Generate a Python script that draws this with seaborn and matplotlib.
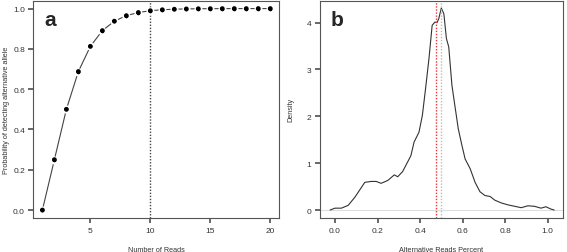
import numpy as np
import pandas as pd
import seaborn as sns
from matplotlib import pyplot as plt

# panel a: probability of detecting the alternative allele by read depth
reads = list(range(1, 21))
prob_detect = [0.0, 0.25, 0.5, 0.6875, 0.8125, 0.8906, 0.9375, 0.9648, 0.9805, 0.9893,
               0.9941, 0.9968, 0.9983, 0.9991, 0.9995, 0.9997, 0.9999, 0.9999, 1.0, 1.0]
read_cutoff = 10

# panel b: density of alternative read fraction
alt_pct = [-0.023, 0.0, 0.03, 0.062, 0.093, 0.124, 0.14, 0.17, 0.194, 0.217, 0.248,
           0.279, 0.295, 0.318, 0.341, 0.357, 0.372, 0.395, 0.411, 0.426, 0.442,
           0.457, 0.47, 0.48, 0.488, 0.50, 0.512, 0.524, 0.535, 0.55, 0.566, 0.58,
           0.597, 0.612, 0.636, 0.659, 0.682, 0.705, 0.729, 0.752, 0.783, 0.814,
           0.845, 0.876, 0.907, 0.938, 0.969, 0.992, 1.016, 1.031]
density = [0.0, 0.04, 0.04, 0.10, 0.27, 0.48, 0.59, 0.61, 0.61, 0.57, 0.63,
           0.75, 0.71, 0.82, 1.02, 1.16, 1.45, 1.66, 2.02, 2.59, 3.23,
           3.94, 4.01, 4.0, 4.08, 4.31, 4.19, 3.66, 3.48, 2.66, 2.16, 1.73,
           1.38, 1.09, 0.88, 0.59, 0.39, 0.31, 0.29, 0.21, 0.15, 0.11,
           0.08, 0.05, 0.09, 0.08, 0.04, 0.07, 0.02, 0.0]
mean_line = 0.475
half_line = 0.5

sns.set_theme(style="ticks")
plt.rcParams['font.family'] = ['Liberation Sans', 'DejaVu Sans']
grey = '#555555'
plt.rcParams.update({
    'axes.edgecolor': grey, 'axes.linewidth': 0.8,
    'xtick.color': grey, 'ytick.color': grey,
    'xtick.labelcolor': '#333333', 'ytick.labelcolor': '#333333',
    'xtick.labelsize': 6, 'ytick.labelsize': 6,
    'xtick.major.size': 3.5, 'ytick.major.size': 3.5,
    'xtick.major.pad': 3, 'ytick.major.pad': 2.5,
    'axes.labelsize': 5.2, 'axes.labelcolor': '#333333',
})

fig = plt.figure(figsize=(5.67, 2.53), dpi=100)
ax1 = fig.add_axes([0.0587, 0.134, 0.434, 0.86])
ax2 = fig.add_axes([0.5638, 0.134, 0.429, 0.86])

df_a = pd.DataFrame({'reads': reads, 'prob': prob_detect})
sns.lineplot(data=df_a, x='reads', y='prob', ax=ax1, color='#444444', lw=0.8)
sns.scatterplot(data=df_a, x='reads', y='prob', ax=ax1, color='black', s=18,
                edgecolor='white', linewidth=1.6, zorder=3)
sns.scatterplot(data=df_a, x='reads', y='prob', ax=ax1, color='black', s=12,
                edgecolor='none', zorder=4)
ax1.axvline(read_cutoff, color='#444444', lw=1, ls=(0, (1, 1.2)))
ax1.set_xlim(0.24, 20.76)
ax1.set_ylim(-0.04, 1.04)
ax1.set_xticks([5, 10, 15, 20])
ax1.set_yticks(np.arange(0, 1.01, 0.2))
ax1.set_yticklabels([f'{v:.1f}' for v in np.arange(0, 1.01, 0.2)])
ax1.set_xlabel('Number of Reads', labelpad=8.5)
ax1.set_ylabel('Probability of detecting alternative allele', labelpad=2.5)
ax1.text(0.045, 0.955, 'a', transform=ax1.transAxes, fontsize=15,
         fontweight='bold', va='top', ha='left')

df_b = pd.DataFrame({'pct': alt_pct, 'dens': density})
ax2.axhline(0, color='#dddddd', lw=0.8)
sns.lineplot(data=df_b, x='pct', y='dens', ax=ax2, color='#333333', lw=0.8)
ax2.axvline(mean_line, color='#ee3333', lw=1, ls=(0, (1, 1.2)))
ax2.axvline(half_line, color='#bbbbbb', lw=1, ls=(0, (1, 1.2)))
ax2.set_xlim(-0.072, 1.072)
ax2.set_ylim(-0.172, 4.47)
ax2.set_xticks(np.arange(0, 1.01, 0.2))
ax2.set_xticklabels([f'{v:.1f}' for v in np.arange(0, 1.01, 0.2)])
ax2.set_yticks([0, 1, 2, 3, 4])
ax2.set_xlabel('Alternative Reads Percent', labelpad=8.5)
ax2.set_ylabel('Density', labelpad=8.5)
ax2.text(0.045, 0.955, 'b', transform=ax2.transAxes, fontsize=15,
         fontweight='bold', va='top', ha='left')

for ax in (ax1, ax2):
    for s in ax.spines.values():
        s.set_visible(True)

fig.savefig('out.png', dpi=100)
